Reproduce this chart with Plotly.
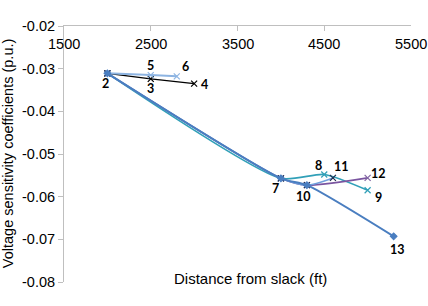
import plotly.graph_objects as go

# ---- data ----
node_ids = ["2", "3", "4", "5", "6", "7", "8", "9", "10", "11", "12", "13"]
node_x = [2000, 2500, 3000, 2500, 2800, 4000, 4500, 5000, 4300, 4600, 5000, 5300]
node_y = [-0.0311, -0.0324, -0.0335, -0.0315, -0.0318, -0.0557, -0.0548,
          -0.0585, -0.0573, -0.0556, -0.0556, -0.0693]

path_black = ["2", "3", "4"]
path_light = ["2", "5", "6"]
path_teal = ["2", "7", "8", "9"]
path_purple = ["2", "7", "10", "12"]
path_mid = ["2", "7", "10", "11"]
path_main = ["2", "7", "10", "13"]

x_ticks = [1500, 2500, 3500, 4500, 5500]
x_tick_labels = ["1500", "2500", "3500", "4500", "5500"]
y_ticks = [-0.08, -0.07, -0.06, -0.05, -0.04, -0.03, -0.02]
y_tick_labels = ["-0.08", "-0.07", "-0.06", "-0.05", "-0.04", "-0.03", "-0.02"]

x_title = "Distance from slack (ft)"
y_title = "Voltage sensitivity coefficients (p.u.)"

# ---- build ----
lookup = {n: (x, y) for n, x, y in zip(node_ids, node_x, node_y)}

def xy(path):
    return [lookup[n][0] for n in path], [lookup[n][1] for n in path]

series = [
    (path_black, "#000000", "#000000", "x-thin-open", 1.3),
    (path_light, "#8DB4E2", "#8DB4E2", "x-thin-open", 2.0),
    (path_teal, "#31A0B8", "#31A0B8", "x-thin-open", 1.6),
    (path_purple, "#7A55A0", "#8064A2", "x-thin-open", 1.6),
    (path_mid, "#6F9FDC", "#1F2F4F", "x-thin-open", 1.6),
    (path_main, "#4A7EC0", "#4A7EC0", "diamond", 2.0),
]

fig = go.Figure()
for path, lc, mc, sym, w in series:
    xs, ys = xy(path)
    fig.add_trace(go.Scatter(
        x=xs, y=ys, mode="lines+markers",
        line=dict(color=lc, width=w, shape="spline", smoothing=0.65),
        marker=dict(symbol=sym, size=6 if sym != "diamond" else 5,
                    color=mc, line=dict(color=mc, width=1.2)),
        showlegend=False, hoverinfo="skip",
    ))

label_offsets = {
    "2": (-2, -10), "3": (0, -10), "4": (10, -1), "5": (0, 10), "6": (9, 10),
    "7": (-5, -10), "8": (-6, 9), "9": (11, -7), "10": (-3, -11),
    "11": (9, 11), "12": (11, 4), "13": (4, -13),
}
for n in node_ids:
    dx, dy = label_offsets[n]
    fig.add_annotation(
        x=lookup[n][0], y=lookup[n][1], text="<b>%s</b>" % n,
        showarrow=False, xshift=dx, yshift=dy,
        font=dict(family="Lato", size=12.5, color="#000000"),
    )

# x tick labels drawn just below the top axis line
for v, t in zip(x_ticks, x_tick_labels):
    fig.add_annotation(
        x=v, xref="x", y=1, yref="paper", text=t, showarrow=False,
        xanchor="center", yanchor="middle", yshift=-18,
        font=dict(family="Liberation Sans", size=14.5, color="#000000"),
    )

fig.add_annotation(
    xref="paper", yref="paper", x=0.538, y=0.012, text=x_title,
    showarrow=False, xanchor="center", yanchor="middle",
    font=dict(family="Liberation Sans", size=15, color="#000000"),
)
fig.add_annotation(
    xref="paper", yref="paper", x=-0.161, y=0.5, text=y_title, textangle=-90,
    showarrow=False, xanchor="center", yanchor="middle",
    font=dict(family="Liberation Sans", size=14.5, color="#000000"),
)

fig.update_layout(
    width=428, height=306,
    margin=dict(l=64, r=17, t=26, b=24),
    paper_bgcolor="white", plot_bgcolor="white",
    font=dict(family="Liberation Sans", size=14.5, color="#000000"),
    xaxis=dict(
        range=[1500, 5500], side="top", tickvals=x_ticks,
        ticks="inside", ticklen=5, tickcolor="#BFBFBF",
        showticklabels=False, showgrid=False, zeroline=False,
        showline=True, linecolor="#BFBFBF", linewidth=1,
    ),
    yaxis=dict(
        range=[-0.08, -0.02], tickvals=y_ticks, ticktext=y_tick_labels,
        ticks="outside", ticklen=5, tickcolor="#BFBFBF",
        showgrid=False, zeroline=False, automargin=False,
        showline=True, linecolor="#BFBFBF", linewidth=1,
    ),
)

fig.write_html("out.html", config={"displayModeBar": False},
               post_script="document.body.style.margin='0';")
